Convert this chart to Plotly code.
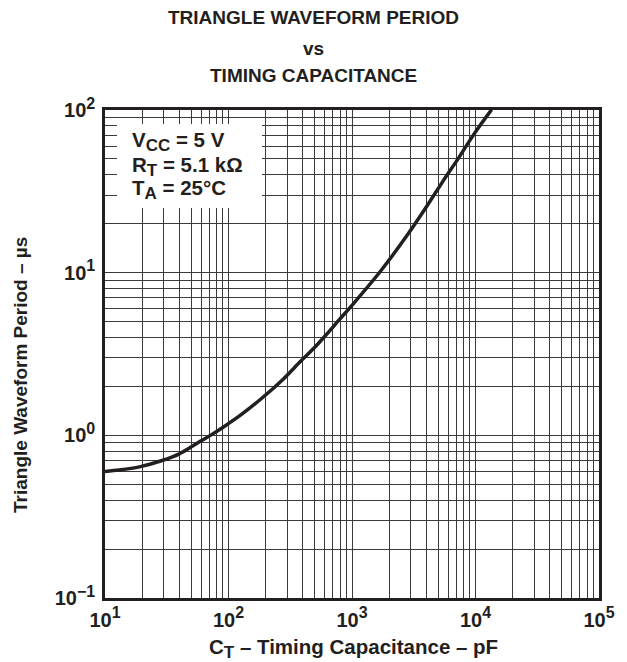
import plotly.graph_objects as go

# ---- data ----
cap_pf = [10, 13, 19, 29, 40, 50, 60, 73, 95, 125, 186, 280, 380, 500, 600,
          800, 1000, 1700, 2860, 4030, 5490, 7260, 9030, 11200, 13500]
period_us = [0.60, 0.612, 0.64, 0.70, 0.77, 0.85, 0.925, 1.01, 1.15, 1.33,
             1.69, 2.23, 2.83, 3.48, 4.05, 5.2, 6.3, 10.2, 17.4, 25.6,
             36.8, 50.4, 65.3, 82.8, 100.5]

x_decades = [1, 2, 3, 4, 5]
y_decades = [-1, 0, 1, 2]
SUP = "<sup><span style='font-size:16px'>{}</span></sup>"
x_tick_labels = ["10" + SUP.format(e) for e in ["1", "2", "3", "4", "5"]]
y_tick_labels = ["10" + SUP.format(e) for e in ["\u22121", "0", "1", "2"]]

title_lines = ["TRIANGLE WAVEFORM PERIOD", "vs", "TIMING CAPACITANCE"]
cond_lines = ["V<sub><span style='font-size:17px'>CC</span></sub> = 5 V",
              "R<sub><span style='font-size:17px'>T</span></sub> = 5.1 k\u03a9",
              "T<sub><span style='font-size:17px'>A</span></sub> = 25\u00b0C"]
x_title = "C<sub><span style='font-size:17px'>T</span></sub> \u2013 Timing Capacitance \u2013 pF"
y_title = "Triangle Waveform Period \u2013 \u00b5s"


def log_ticks(decades, labels):
    vals, texts = [], []
    for i, d in enumerate(decades):
        vals.append(10 ** d)
        texts.append(labels[i])
        if i < len(decades) - 1:
            for m in range(2, 10):
                vals.append(m * 10 ** d)
                texts.append("")
    return vals, texts


xv, xt = log_ticks(x_decades, x_tick_labels)
yv, yt = log_ticks(y_decades, y_tick_labels)

FONT = "Liberation Sans, Arial, Helvetica, sans-serif"
TXT = "#231f20"
GRID = "#3a3a3a"

fig = go.Figure()
fig.add_trace(go.Scatter(x=cap_pf, y=period_us, mode="lines",
                         line=dict(color=TXT, width=3.5, shape="spline", smoothing=0.8),
                         hoverinfo="skip", showlegend=False))

# page body adds an 8px offset; the figure is sized so the page matches 627x662
OFF = 8
W, H = 627 - OFF, 662 - OFF
L, T = 105 - OFF, 110 - OFF
pw, ph = 494, 488
R, B = W - L - pw, H - T - ph


def px(xp):
    return (xp - 105) / pw


def py(yp):
    return (598 - yp) / ph


fig.update_layout(
    width=W, height=H,
    margin=dict(l=L, r=R, t=T, b=B),
    paper_bgcolor="white", plot_bgcolor="white",
    font=dict(family=FONT, color=TXT, size=20, weight="bold"),
    xaxis=dict(type="log", range=[1, 5], tickvals=xv, ticktext=xt,
               showgrid=True, gridcolor=GRID, gridwidth=1.2,
               showline=True, mirror=True, linecolor=TXT, linewidth=2.5,
               ticks="", ticklabelstandoff=2,
               tickfont=dict(size=20, weight="bold"), zeroline=False),
    yaxis=dict(type="log", range=[-1, 2], tickvals=yv, ticktext=yt,
               showgrid=True, gridcolor=GRID, gridwidth=1.2,
               showline=True, mirror=True, linecolor=TXT, linewidth=2.5,
               ticks="", ticklabelstandoff=3,
               tickfont=dict(size=20, weight="bold"), zeroline=False),
)

# white box for conditions
fig.add_shape(type="rect", xref="paper", yref="paper",
              x0=px(117), x1=px(262), y0=py(208), y1=py(124),
              fillcolor="white", line=dict(width=0), layer="above")

ann = []
for text, yc in zip(title_lines, [18, 48, 76]):
    ann.append(dict(text=text, xref="paper", yref="paper", x=px(313), y=py(yc),
                    xanchor="center", yanchor="middle", showarrow=False,
                    font=dict(size=19, weight="bold", color=TXT)))
for text, yc in zip(cond_lines, [142, 166, 189]):
    ann.append(dict(text=text, xref="paper", yref="paper", x=px(130), y=py(yc),
                    xanchor="left", yanchor="middle", showarrow=False,
                    font=dict(size=20.5, weight="bold", color=TXT)))
ann.append(dict(text=x_title, xref="paper", yref="paper", x=px(353), y=py(648),
                xanchor="center", yanchor="middle", showarrow=False,
                font=dict(size=20.5, weight="bold", color=TXT)))
ann.append(dict(text=y_title, xref="paper", yref="paper", x=px(20), y=py(375),
                xanchor="center", yanchor="middle", showarrow=False, textangle=-90,
                font=dict(size=19, weight="bold", color=TXT)))
fig.update_layout(annotations=ann)

fig.write_html("out.html")
